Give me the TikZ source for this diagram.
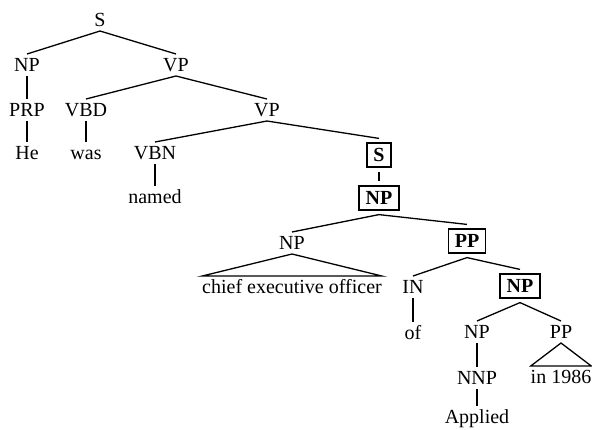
\documentclass[tikz,border=0pt]{standalone}
\usepackage{fontspec}
\setmainfont{Liberation Serif}
\begin{document}
\begin{tikzpicture}[x=1pt,y=-1pt,
  every node/.style={font=\fontsize{20}{24}\selectfont, text height=13.2pt, text depth=0pt, inner xsep=0pt, inner ysep=4.4pt, outer sep=0pt},
  boxed/.style={draw, line width=1.4pt, font=\fontsize{20}{24}\selectfont\bfseries, inner xsep=6.5pt, inner ysep=5.5pt, outer sep=4.5pt},
  edge/.style={line width=1.3pt, line join=miter}]
\useasboundingbox (0,0) rectangle (592,429);
\node (S) at (100,20) {S};
\node (NPa) at (27,65) {NP};
\node (VPa) at (176,65) {VP};
\node (PRP) at (27,110) {PRP};
\node (He) at (27,153) {He};
\node (VBD) at (86,110) {VBD};
\node (was) at (86,153) {was};
\node (VPb) at (267,110) {VP};
\node (VBN) at (155,153) {VBN};
\node (named) at (155,197) {named};
\node[boxed] (Sb) at (379,155) {S};
\node[boxed] (NPb) at (379,198) {NP};
\node (NPc) at (292,243) {NP};
\node (chief) at (292,287) {chief executive officer};
\node[boxed] (PPb) at (467,241) {PP};
\node (IN) at (413,287) {IN};
\node (of) at (413,333) {of};
\node[boxed] (NPd) at (520,286) {NP};
\node (NPe) at (477,332) {NP};
\node (PPe) at (561,332) {PP};
\node (NNP) at (477,378) {NNP};
\node (Applied) at (477,417) {Applied};
\node (in) at (561,377) {in 1986};
\draw[edge] (NPa.north) -- (S.south) -- (VPa.north);
\draw[edge] (NPa.south) -- (PRP.north);
\draw[edge] (PRP.south) -- (He.north);
\draw[edge] (VBD.north) -- (VPa.south) -- (VPb.north);
\draw[edge] (VBD.south) -- (was.north);
\draw[edge] (VBN.north) -- (VPb.south) -- (Sb.north);
\draw[edge] (VBN.south) -- (named.north);
\draw[edge] (Sb.south) -- (NPb.north);
\draw[edge] (NPc.north) -- (NPb.south) -- (PPb.north);
\draw[edge] (NPc.south) -- (chief.north west) -- (chief.north east) -- cycle;
\draw[edge] (IN.north) -- (PPb.south) -- (NPd.north);
\draw[edge] (IN.south) -- (of.north);
\draw[edge] (NPe.north) -- (NPd.south) -- (PPe.north);
\draw[edge] (NPe.south) -- (NNP.north);
\draw[edge] (NNP.south) -- (Applied.north);
\draw[edge] (PPe.south) -- (in.north west) -- (in.north east) -- cycle;
\end{tikzpicture}
\end{document}
